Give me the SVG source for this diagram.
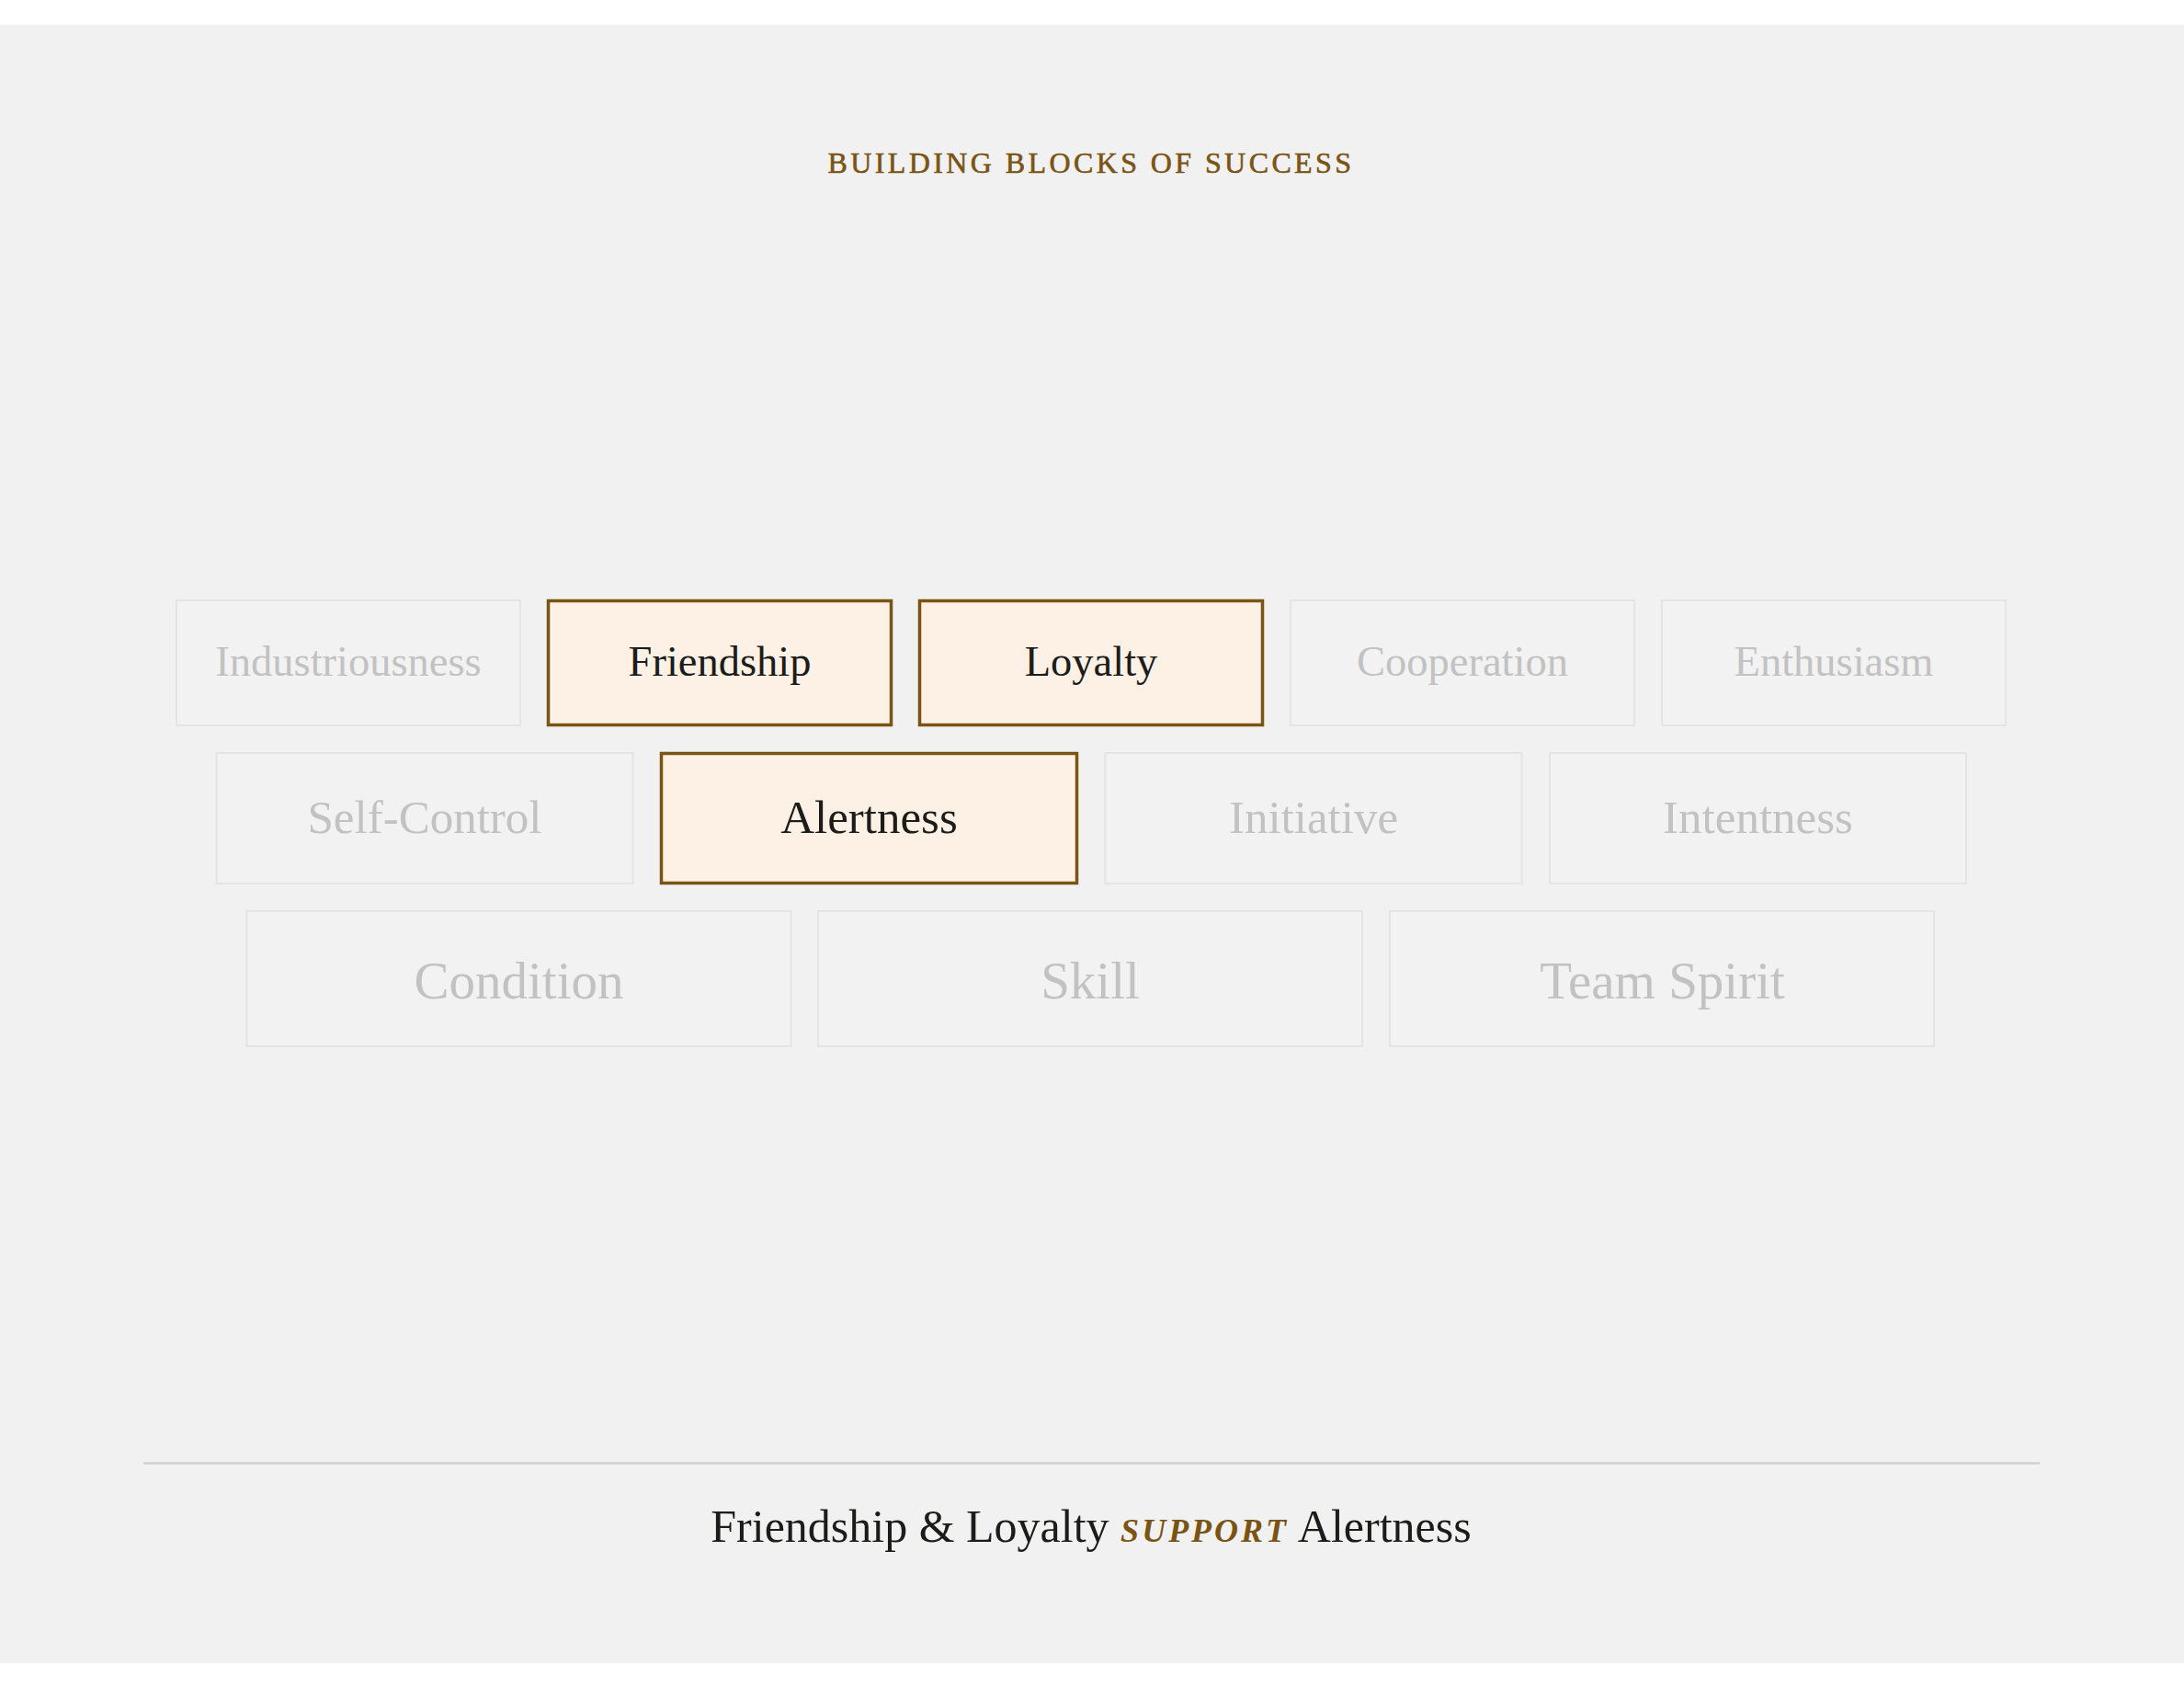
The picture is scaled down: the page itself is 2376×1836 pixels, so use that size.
<svg xmlns="http://www.w3.org/2000/svg" width="2376" height="1836" viewBox="0 0 2376 1836">
<style>
.box{fill:#f2f2f2;stroke:#e4e4e4;stroke-width:2}
.hl{fill:#fdf0e4;stroke:#7b5414;stroke-width:3.5}
.t{font-family:"Liberation Serif","Times New Roman",serif;text-anchor:middle}
.dim{fill:#c2c2c2}
.on{fill:#1c1c1a}
.r1{font-size:46.5px}
.r2{font-size:51px}
.r3{font-size:57px}
</style>
<rect x="0" y="0" width="2376" height="1836" fill="#ffffff"/>
<rect x="0" y="27" width="2376" height="1782" fill="#f1f1f1"/>
<text x="1187" y="188" class="t" style="font-size:32px;letter-spacing:3.4px;fill:#7b5414;stroke:#7b5414;stroke-width:0.6px">BUILDING BLOCKS OF SUCCESS</text>

<g id="connectors"></g>

<g id="industriousness"><rect class="box" x="192" y="653" width="374" height="136"/><text class="t r1 dim" x="379" y="735">Industriousness</text></g>
<g id="friendship"><rect class="hl" x="596.5" y="653.5" width="373" height="135"/><text class="t r1 on" x="783" y="735">Friendship</text></g>
<g id="loyalty"><rect class="hl" x="1000.5" y="653.5" width="373" height="135"/><text class="t r1 on" x="1187" y="735">Loyalty</text></g>
<g id="cooperation"><rect class="box" x="1404" y="653" width="374" height="136"/><text class="t r1 dim" x="1591" y="735">Cooperation</text></g>
<g id="enthusiasm"><rect class="box" x="1808" y="653" width="374" height="136"/><text class="t r1 dim" x="1995" y="735">Enthusiasm</text></g>

<g id="self-control"><rect class="box" x="235.5" y="819" width="453" height="142"/><text class="t r2 dim" x="462" y="906">Self-Control</text></g>
<g id="alertness"><rect class="hl" x="719.5" y="819.5" width="452" height="141"/><text class="t r2 on" x="945.5" y="906">Alertness</text></g>
<g id="initiative"><rect class="box" x="1202.5" y="819" width="453" height="142"/><text class="t r2 dim" x="1429" y="906">Initiative</text></g>
<g id="intentness"><rect class="box" x="1686" y="819" width="453" height="142"/><text class="t r2 dim" x="1912.5" y="906">Intentness</text></g>

<g id="condition"><rect class="box" x="268.5" y="991" width="592" height="147"/><text class="t r3 dim" x="564.5" y="1086">Condition</text></g>
<g id="skill"><rect class="box" x="890" y="991" width="592" height="147"/><text class="t r3 dim" x="1186" y="1086">Skill</text></g>
<g id="team-spirit"><rect class="box" x="1512" y="991" width="592" height="147"/><text class="t r3 dim" x="1808.5" y="1086">Team Spirit</text></g>

<line x1="156" y1="1591.5" x2="2219" y2="1591.5" stroke="#d0d0d0" stroke-width="2.5"/>
<text class="t" x="1187" y="1677" style="font-size:50px;fill:#1c1c1a">Friendship &amp; Loyalty <tspan style="font-size:36px;font-style:italic;font-weight:bold;letter-spacing:3px;fill:#7b5414">SUPPORT</tspan> Alertness</text>
</svg>
